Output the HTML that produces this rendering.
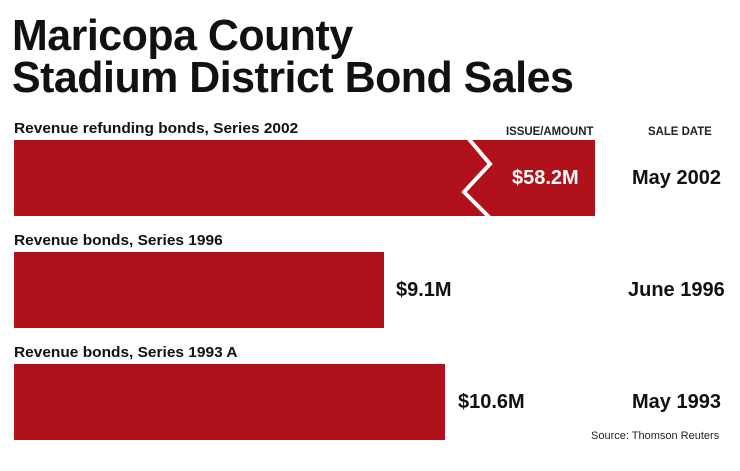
<!DOCTYPE html>
<html><head><style>
body{margin:0;width:740px;height:471px;background:#fff;position:relative;font-family:"Liberation Sans",sans-serif;overflow:hidden}
.t{position:absolute;left:12px;font-weight:bold;font-size:44px;line-height:42px;color:#111;letter-spacing:-0.5px;transform:scaleX(0.975);transform-origin:left}
.l{position:absolute;left:14px;font-weight:bold;font-size:15px;color:#111;transform:scaleX(1.03);transform-origin:left}
.h{position:absolute;font-weight:bold;font-size:12px;color:#222;transform:scaleX(0.95);transform-origin:left}
.bar{position:absolute;left:14px;background:#b0111a;height:76px}
.v{position:absolute;font-weight:bold;font-size:20px;color:#111}
.d{position:absolute;font-weight:bold;font-size:20px;color:#111}
</style></head><body>
<div class="t" style="top:15px">Maricopa County</div>
<div class="t" style="top:57px">Stadium District Bond Sales</div>
<div class="l" style="top:120px">Revenue refunding bonds, Series 2002</div>
<div class="h" style="left:506px;top:124px">ISSUE/AMOUNT</div>
<div class="h" style="left:648px;top:124px">SALE DATE</div>
<div class="bar" style="top:140px;width:581px"></div>
<svg style="position:absolute;left:0;top:0" width="740" height="471"><polyline points="468,138 490,164 464,192 490,218" fill="none" stroke="#fff" stroke-width="4"/></svg>
<div class="v" style="left:512px;top:167px;color:#fff">$58.2M</div>
<div class="d" style="left:632px;top:167px">May 2002</div>
<div class="l" style="top:232px">Revenue bonds, Series 1996</div>
<div class="bar" style="top:252px;width:370px"></div>
<div class="v" style="left:396px;top:279px">$9.1M</div>
<div class="d" style="left:628px;top:279px">June 1996</div>
<div class="l" style="top:344px">Revenue bonds, Series 1993 A</div>
<div class="bar" style="top:364px;width:431px"></div>
<div class="v" style="left:458px;top:391px">$10.6M</div>
<div class="d" style="left:632px;top:391px">May 1993</div>
<div style="position:absolute;left:591px;top:430px;font-size:11px;color:#222">Source: Thomson Reuters</div>
</body></html>
